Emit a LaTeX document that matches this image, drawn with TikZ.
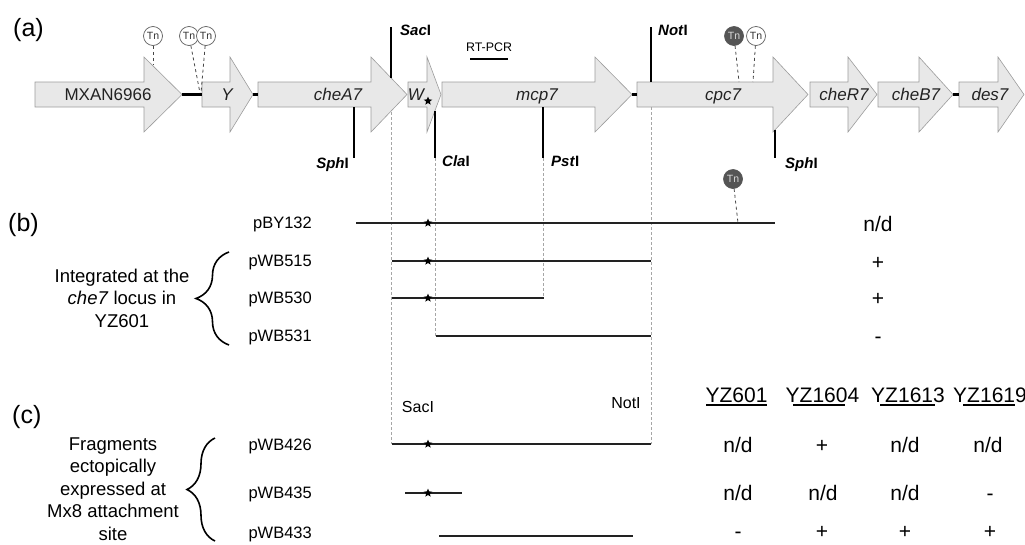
\documentclass[tikz,border=0pt]{standalone}
\usepackage{fontspec}
\setmainfont{Liberation Sans}
\usepackage{tikz}
\usetikzlibrary{shapes.geometric,decorations.pathreplacing}
\definecolor{genefill}{HTML}{E8E8E8}
\definecolor{geneline}{HTML}{9C9C9C}
\definecolor{guideline}{HTML}{A6A6A6}
\definecolor{tndark}{HTML}{555555}
\definecolor{inkgray}{HTML}{222222}
\newcommand{\genearr}[3]{%
  \draw[gene] (#1,82) -- (#2,82) -- (#2,57) -- (#3,94.5) -- (#2,132) -- (#2,107) -- (#1,107) -- cycle;}
\begin{document}
\begin{tikzpicture}[x=1pt,y=-1pt,
  gene/.style={draw=geneline,fill=genefill,line width=0.6pt},
  glabel/.style={font=\fontsize{17}{20}\selectfont\itshape,text=inkgray,inner sep=0pt,
    text height=12.2pt,text depth=0pt},
  site/.style={line width=2pt},
  sitelbl/.style={font=\fontsize{15}{18}\selectfont\bfseries,inner sep=0pt,
    text height=10.7pt,text depth=0pt},
  guide/.style={draw=guideline,densely dashed,line width=0.7pt},
  spacer/.style={line width=2.2pt},
  tn/.style={circle,draw=gray!75!black,fill=white,text=gray!40!black,minimum size=19pt,
    inner sep=0pt,line width=0.7pt,font=\fontsize{10.5}{10.5}\selectfont},
  tnfull/.style={tn,draw=tndark,fill=tndark,text=gray!30},
  tnlink/.style={draw=gray!55!black,dashed,line width=0.8pt},
  plasmid/.style={line width=2pt,draw=inkgray},
  mut/.style={star,star points=5,star point ratio=2.3,fill=black,minimum size=9pt,inner sep=0pt},
  panel/.style={font=\fontsize{25}{30}\selectfont,inner sep=0pt},
  clone/.style={font=\fontsize{16.5}{20}\selectfont,anchor=east,inner sep=0pt,
    text height=11.8pt,text depth=0pt},
  cutlbl/.style={font=\fontsize{16}{20}\selectfont,inner sep=0pt,text height=11.5pt,text depth=0pt},
  note/.style={font=\fontsize{18.5}{22.5}\selectfont,align=center,inner sep=0pt},
  score/.style={font=\fontsize{21}{24}\selectfont,inner sep=0pt,text height=15pt,text depth=0pt},
  bracket/.style={decorate,decoration={brace,amplitude=#1},line width=1.6pt}
]
\useasboundingbox (0,0) rectangle (1025,544);
% (a) gene map
\genearr{35}{144}{182}
\genearr{202}{230}{253}
\genearr{258}{371}{407}
\genearr{408}{427}{441}
\genearr{442}{595}{632}
\genearr{637}{773}{808}
\genearr{810}{848}{877}
\genearr{878}{919}{953}
\genearr{959}{998}{1024}
\draw[spacer] (182,94.5) -- (202,94.5);
\draw[spacer] (253,94.5) -- (258,94.5);
\draw[spacer] (632,94.5) -- (637,94.5);
\draw[spacer] (953,94.5) -- (959,94.5);
\node[glabel,font=\fontsize{17}{20}\selectfont] (mxan) at (108,94.5) {MXAN6966};
\node[glabel] (geneY) at (227,94.5) {Y};
\node[glabel] (cheA) at (338,94.5) {cheA7};
\node[glabel] (geneW) at (416,94.5) {W};
\node[mut] (wstar) at (428,101) {};
\node[glabel] (mcp) at (537,94.5) {mcp7};
\node[glabel] (cpc) at (723,94.5) {cpc7};
\node[glabel] (cheR) at (844,94.5) {cheR7};
\node[glabel] (cheB) at (916,94.5) {cheB7};
\node[glabel] (des) at (990,94.5) {des7};
\node[panel,anchor=base west] (pa) at (13,36) {(a)};
\draw[guide] (391,112) -- (391,444);
\draw[guide] (435,158) -- (435,336);
\draw[guide] (543,158) -- (543,298);
\draw[guide] (651,107) -- (651,444);
\draw[site] (391,27) -- (391,78);
\draw[site] (651,27) -- (651,82);
\draw[site] (354,107) -- (354,158);
\draw[site] (435,111) -- (435,158);
\draw[site] (543,107) -- (543,158);
\draw[site] (775,130) -- (775,158);
\node[sitelbl,anchor=west] (sac) at (400,30) {\textit{Sac}I};
\node[sitelbl,anchor=west] (not) at (658,30) {\textit{Not}I};
\node[sitelbl,anchor=east] (sph1) at (349,163) {\textit{Sph}I};
\node[sitelbl,anchor=west] (cla) at (442,161) {\textit{Cla}I};
\node[sitelbl,anchor=west] (pst) at (551,161) {\textit{Pst}I};
\node[sitelbl,anchor=west] (sph2) at (785,163) {\textit{Sph}I};
\node[font=\fontsize{12.4}{14}\selectfont,inner sep=0pt,text height=8.9pt,text depth=0pt]
  (rtpcr) at (489,47) {RT-PCR};
\coordinate (rt1) at (470,59);
\coordinate (rt2) at (508,59);
\draw[line width=2pt] (rt1) -- (rt2);
\coordinate (ins1) at (153,64);
\coordinate (ins2) at (200,93);
\coordinate (ins3) at (201,93);
\coordinate (ins4) at (739,82);
\coordinate (ins5) at (753,82);
\coordinate (ins6) at (738,223);
\node[tn] (tn1) at (153,36) {Tn};
\node[tn] (tn2) at (189,36) {Tn};
\node[tn] (tn3) at (206,36) {Tn};
\node[tnfull] (tn4) at (734,36) {Tn};
\node[tn] (tn5) at (756,36) {Tn};
\node[tnfull] (tn6) at (733,179) {Tn};
\draw[tnlink] (tn1) -- (ins1);
\draw[tnlink] (tn2) -- (ins2);
\draw[tnlink] (tn3) -- (ins3);
\draw[tnlink] (tn4) -- (ins4);
\draw[tnlink] (tn5) -- (ins5);
\draw[tnlink] (tn6) -- (ins6);
% (b) integrated clones
\node[panel,anchor=base west] (pb) at (8,231) {(b)};
\node[clone] (pby132) at (312,223) {pBY132};
\node[clone] (pwb515) at (312,261) {pWB515};
\node[clone] (pwb530) at (312,298) {pWB530};
\node[clone] (pwb531) at (312,336) {pWB531};
\coordinate (b1l) at (356,223); \coordinate (b1r) at (775,223);
\coordinate (b2l) at (392,261); \coordinate (b2r) at (651,261);
\coordinate (b3l) at (392,298); \coordinate (b3r) at (544,298);
\coordinate (b4l) at (436,336); \coordinate (b4r) at (651,336);
\draw[plasmid] (b1l) -- (b1r);
\draw[plasmid] (b2l) -- (b2r);
\draw[plasmid] (b3l) -- (b3r);
\draw[plasmid] (b4l) -- (b4r);
\node[mut] (s1) at (428,223) {};
\node[mut] (s2) at (428,261) {};
\node[mut] (s3) at (428,298) {};
\draw[bracket=33pt] (229,345) -- (229,252);
\node[note] (integ) at (122,298) {Integrated at the\\\textit{che7} locus in\\YZ601};
\node[score] (rb1) at (878,224) {n/d};
\node[score] (rb2) at (878,262) {+};
\node[score] (rb3) at (878,298) {+};
\node[score] (rb4) at (878,336) {-};
% (c) ectopic fragments
\node[panel,anchor=base west] (pc) at (12,423) {(c)};
\node[cutlbl] (sacc) at (418,407) {SacI};
\node[cutlbl] (notc) at (626,403) {NotI};
\node[clone] (pwb426) at (312,445) {pWB426};
\node[clone] (pwb435) at (312,493) {pWB435};
\node[clone] (pwb433) at (312,533) {pWB433};
\coordinate (c1l) at (392,444); \coordinate (c1r) at (651,444);
\coordinate (c2l) at (405,493); \coordinate (c2r) at (462,493);
\coordinate (c3l) at (439,536); \coordinate (c3r) at (633,536);
\draw[plasmid] (c1l) -- (c1r);
\draw[plasmid] (c2l) -- (c2r);
\draw[plasmid] (c3l) -- (c3r);
\node[mut] (s4) at (428,444) {};
\node[mut] (s5) at (428,493) {};
\draw[bracket=28pt] (215,541) -- (215,438);
\node[note] (ecto) at (113,489) {Fragments\\ectopically\\expressed at\\Mx8 attachment\\site};
\node[score] (h1) at (736.5,395) {YZ601};
\node[score] (h2) at (822.5,395) {YZ1604};
\node[score] (h3) at (908,395) {YZ1613};
\node[score] (h4) at (990,395) {YZ1619};
\draw[line width=1.5pt] (706,405) -- (767,405);
\draw[line width=1.5pt] (793,405) -- (845,405);
\draw[line width=1.5pt] (880,405) -- (935,405);
\draw[line width=1.5pt] (963,405) -- (1015,405);
\node[score] (r11) at (738,445) {n/d};
\node[score] (r12) at (822,445) {+};
\node[score] (r13) at (905,445) {n/d};
\node[score] (r14) at (988,445) {n/d};
\node[score] (r21) at (738,493) {n/d};
\node[score] (r22) at (823,493) {n/d};
\node[score] (r23) at (905,493) {n/d};
\node[score] (r24) at (990,493) {-};
\node[score] (r31) at (738,531) {-};
\node[score] (r32) at (822,531) {+};
\node[score] (r33) at (905,531) {+};
\node[score] (r34) at (990,531) {+};
\end{tikzpicture}
\end{document}
